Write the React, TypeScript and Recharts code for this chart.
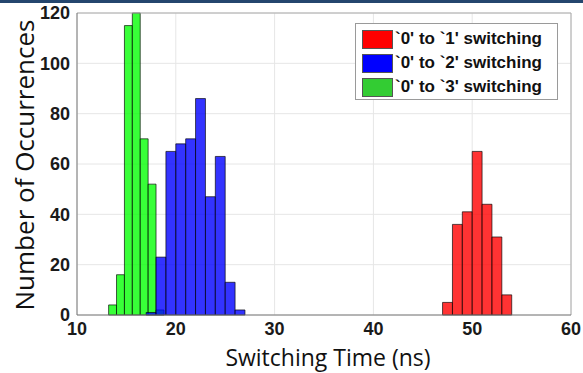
import {
    ComposedChart,
    XAxis,
    YAxis,
    CartesianGrid,
    ReferenceArea,
    ReferenceLine,
    Label
} from 'recharts';

// bin edges (ns) and counts
const redEdges = [47, 48, 49, 50, 51, 52, 53, 54];
const redCounts = [5, 36, 41, 65, 44, 31, 8];

const blueEdges = [17, 18, 19, 20, 21, 22, 23, 24, 25, 26, 27];
const blueCounts = [1, 23, 65, 68, 70, 86, 47, 63, 13, 2];

const greenEdges = [13.2, 14.0, 14.8, 15.6, 16.4, 17.2, 18.0, 18.8];
const greenCounts = [4, 16, 115, 120, 70, 52, 2];

const xTicks = [10, 20, 30, 40, 50, 60];
const yTicks = [0, 20, 40, 60, 80, 100, 120];

const legendLabels = ["`0' to `1' switching", "`0' to `2' switching", "`0' to `3' switching"];
const legendColors = ['#ff0000', '#0000ff', '#33cc33'];

const tickStyle = {
    fontFamily: '"Liberation Sans", Arial, sans-serif',
    fontWeight: 'bold',
    fontSize: 18,
    fill: '#1a1a1a'
};

// one ReferenceArea per histogram bin, placed with the chart's own scales
const bins = (edges: number[], counts: number[], fill: string, opacity: number, name: string) =>
    counts.map((c, i) => (
        <ReferenceArea
            key={`${name}-${i}`}
            x1={edges[i]}
            x2={edges[i + 1]}
            y1={0}
            y2={c}
            fill={fill}
            fillOpacity={opacity}
            stroke="#000"
            strokeOpacity={0.65}
            strokeWidth={1}
            ifOverflow="extendDomain"
        />
    ));

const LegendBox = () => (
    <div
        style={{
            position: 'absolute',
            left: 355,
            top: 23,
            width: 203,
            height: 77,
            boxSizing: 'border-box',
            border: '1px solid #9a9a9a',
            background: '#fff',
            paddingTop: 3,
            paddingLeft: 6
        }}
    >
        {legendLabels.map((t, i) => (
            <div key={t} style={{ display: 'flex', alignItems: 'center', height: 24 }}>
                <div
                    style={{
                        width: 31,
                        height: 19,
                        background: legendColors[i],
                        border: '1px solid #555',
                        boxSizing: 'border-box',
                        marginRight: 2
                    }}
                />
                <span
                    style={{
                        fontFamily: '"Liberation Sans", Arial, sans-serif',
                        fontWeight: 'bold',
                        fontSize: 17,
                        color: '#111',
                        whiteSpace: 'nowrap'
                    }}
                >
                    {t}
                </span>
            </div>
        ))}
    </div>
);

export default function App() {
    return (
        <div style={{ position: 'absolute', left: 0, top: 0, width: 583, height: 373, background: '#fff' }}>
            <ComposedChart width={583} height={373} margin={{ top: 13, right: 12, bottom: 0, left: 0 }}>
                <CartesianGrid stroke="#e6e6e6" />
                <XAxis
                    type="number"
                    dataKey="x"
                    domain={[10, 60]}
                    ticks={xTicks}
                    allowDataOverflow
                    height={58}
                    tick={tickStyle}
                    tickLine={false}
                    tickSize={6}
                    tickMargin={1}
                    axisLine={{ stroke: '#777' }}
                >
                    <Label
                        content={() => (
                            <text
                                x={328}
                                y={366}
                                textAnchor="middle"
                                style={{ fontFamily: '"Open Sans", sans-serif', fontSize: 23, fill: '#111' }}
                            >
                                Switching Time (ns)
                            </text>
                        )}
                    />
                </XAxis>
                <YAxis
                    type="number"
                    domain={[0, 120]}
                    ticks={yTicks}
                    allowDataOverflow
                    width={77}
                    tick={tickStyle}
                    tickLine={false}
                    tickSize={5}
                    tickMargin={2}
                    axisLine={{ stroke: '#777' }}
                >
                    <Label
                        content={() => (
                            <text
                                x={24}
                                y={165}
                                textAnchor="middle"
                                dominantBaseline="central"
                                transform="rotate(-90 24 165)"
                                style={{ fontFamily: '"Open Sans", sans-serif', fontSize: 26, fill: '#111' }}
                            >
                                Number of Occurrences
                            </text>
                        )}
                    />
                </YAxis>
                <ReferenceLine y={120} stroke="#aaa" />
                <ReferenceLine x={60} stroke="#aaa" />
                {bins(greenEdges, greenCounts, '#00ff00', 0.78, 'green')}
                {bins(blueEdges, blueCounts, '#0000ff', 0.8, 'blue')}
                {bins(redEdges, redCounts, '#ff0000', 0.8, 'red')}
            </ComposedChart>
            <LegendBox />
            {/* thin slide border on top */}
            <div style={{ position: 'absolute', left: 0, top: 0, width: 583, height: 3, background: '#24466e' }} />
        </div>
    );
}
